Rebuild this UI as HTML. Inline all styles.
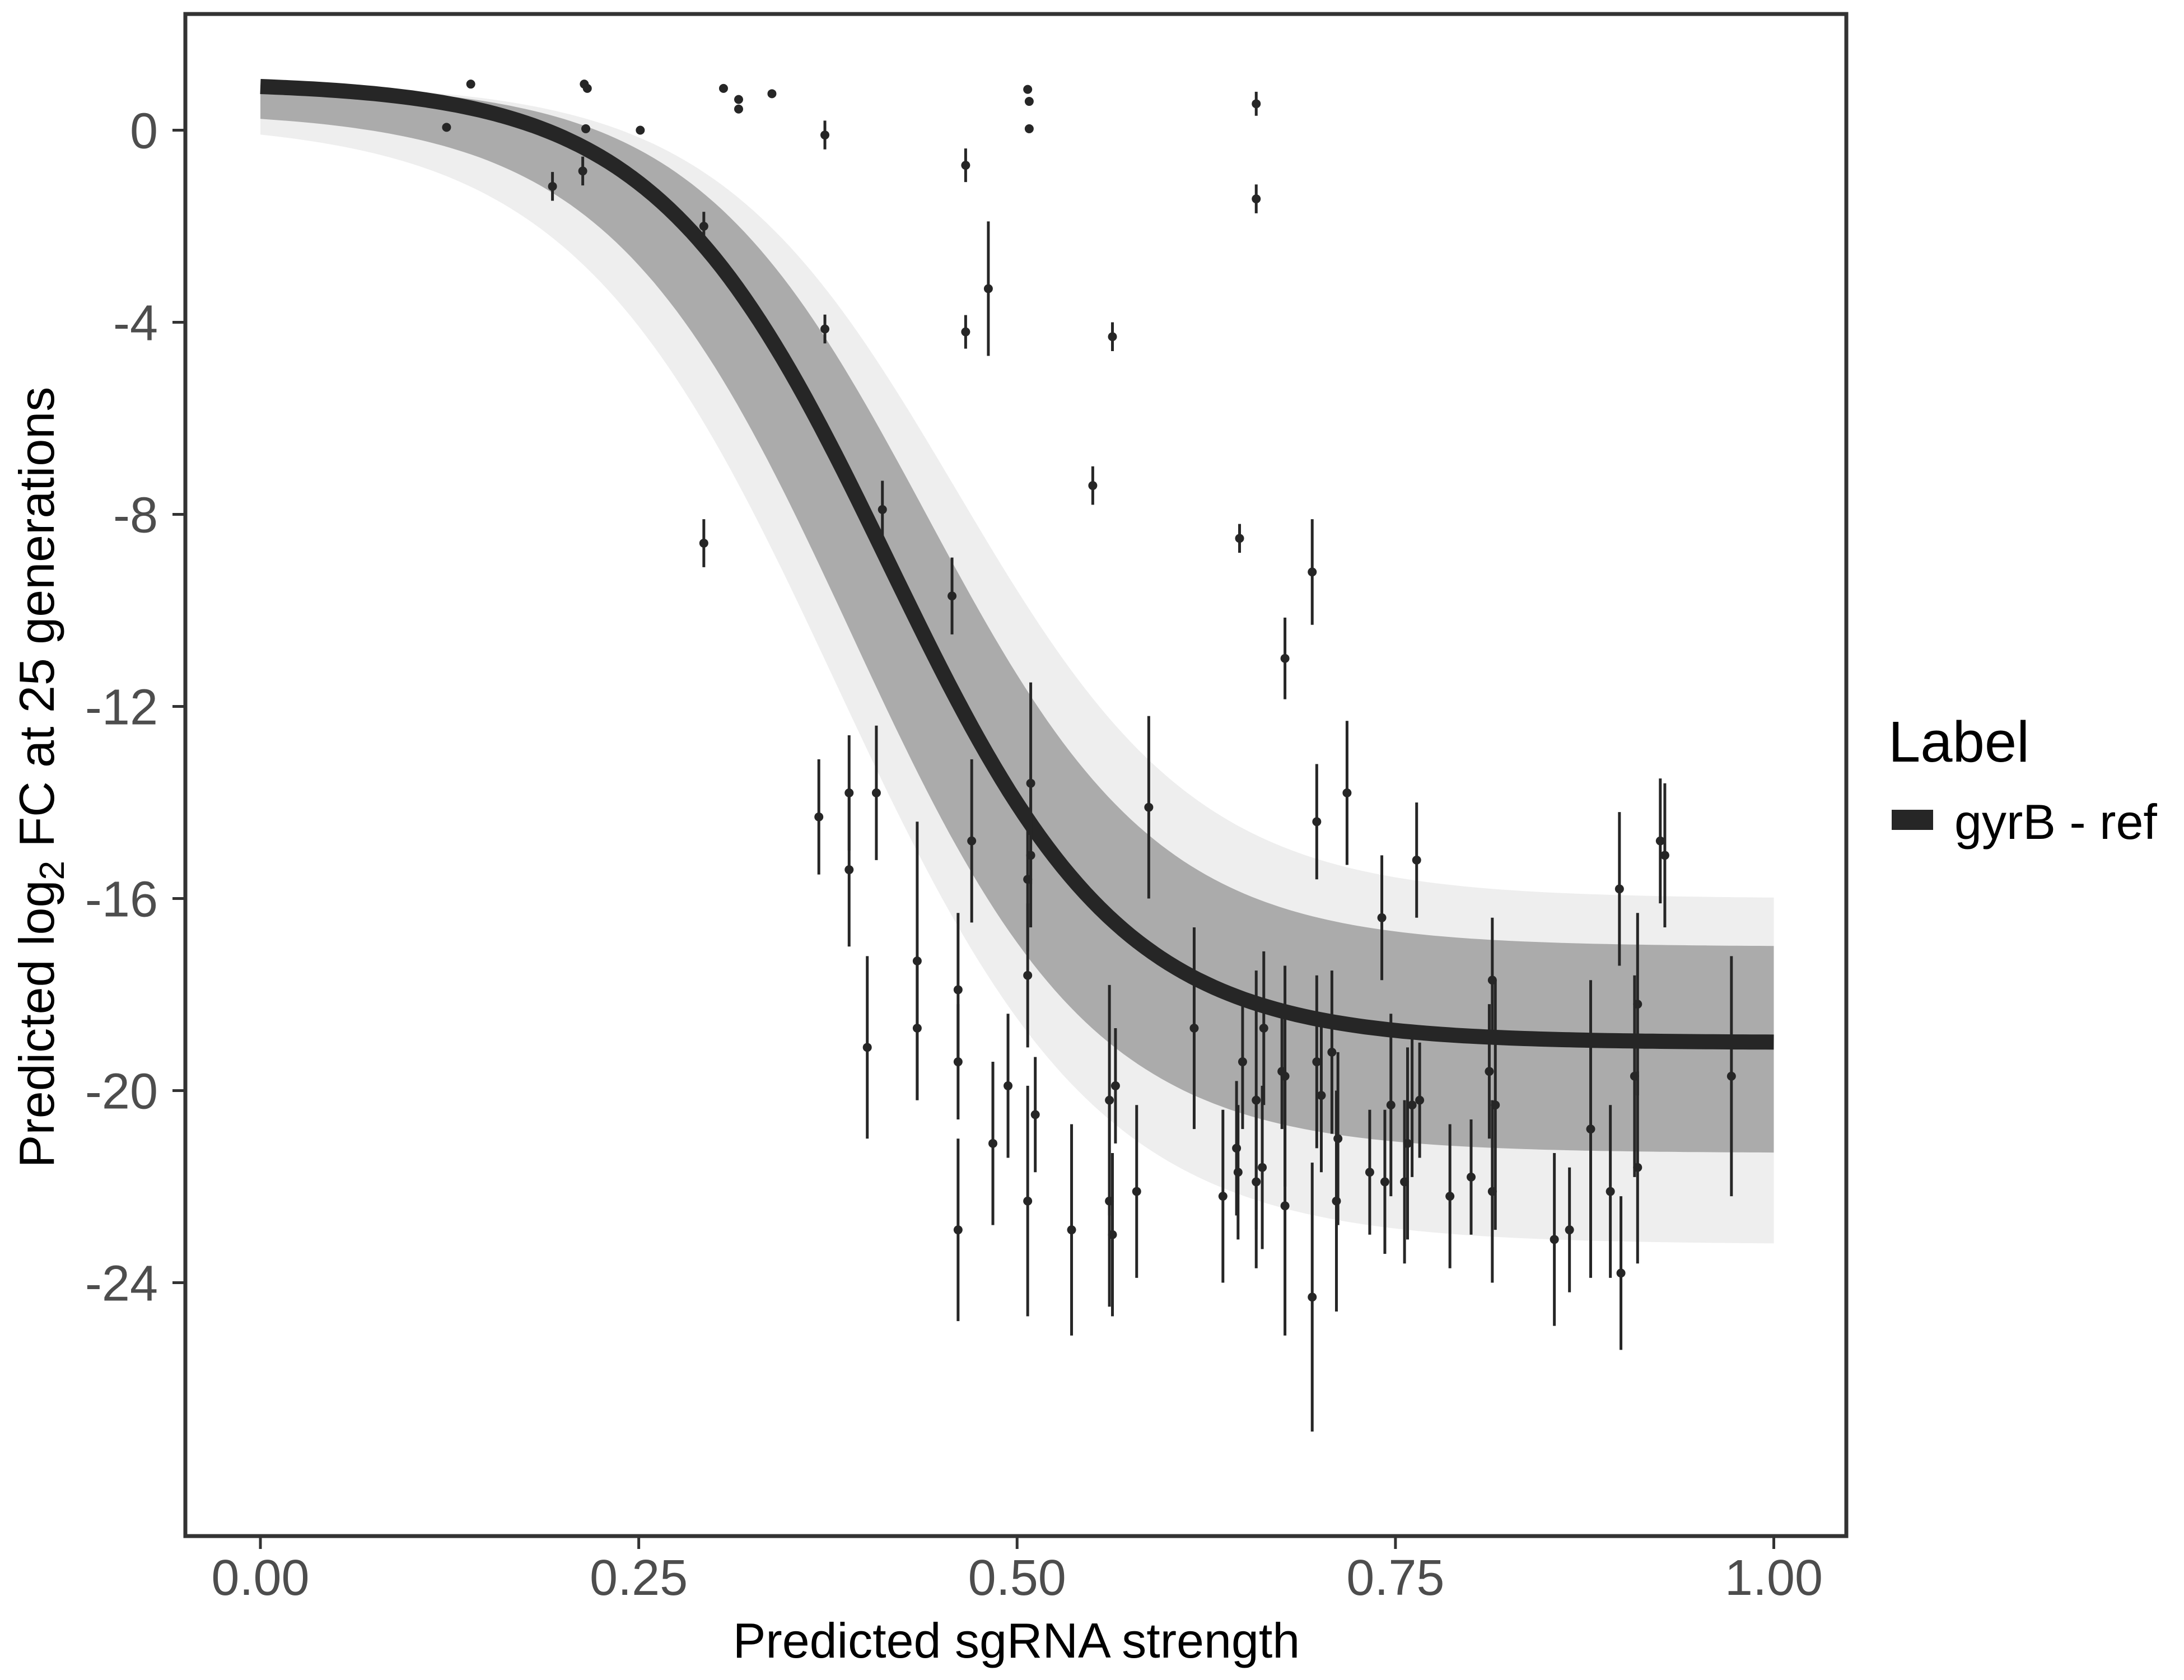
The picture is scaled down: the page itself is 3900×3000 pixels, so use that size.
<!DOCTYPE html>
<html><head><meta charset="utf-8"><style>
html,body{margin:0;padding:0;background:#fff;}
svg{display:block;font-family:"Liberation Sans",sans-serif;}
</style></head><body>
<svg id="chart" width="3900" height="3000" viewBox="0 0 3900 3000">
<g id="ribbon"></g>
<g id="fit"></g>
<g id="pts"></g>
<rect x="331" y="25" width="2966" height="2718" fill="none" stroke="#333" stroke-width="7"/>
<g id="axes"></g>
<text x="1815" y="2960" font-size="88" text-anchor="middle" fill="#000">Predicted sgRNA strength</text>
<text transform="translate(96,1388) rotate(-90)" font-size="88" text-anchor="middle" fill="#000">Predicted  log<tspan font-size="62" dy="18">2</tspan><tspan dy="-18"> FC at 25 generations</tspan></text>
<g>
<text x="3372" y="1360" font-size="103" fill="#000">Label</text>
<rect x="3378" y="1446" width="74" height="36" fill="#262626"/>
<text x="3490" y="1498" font-size="88" fill="#000">gyrB - ref</text>
</g>
</svg>
<script>
const xTicks = [0, 0.25, 0.5, 0.75, 1];
const xTickLabels = ["0.00","0.25","0.50","0.75","1.00"];
const yTicks = [0, -4, -8, -12, -16, -20, -24];
const yTickLabels = ["0","-4","-8","-12","-16","-20","-24"];
// fit logistic: top, bottom, midpoint, slope
const fitParams = [1.0, -19.0, 0.415, 13];
// ribbon envelopes [top, bottom, mid, slope]
const coreUpper = [1.0, -17.0, 0.44, 13];
const coreLower = [0.4, -21.3, 0.39, 12.5];
const outerUpper = [1.0, -16.0, 0.46, 12.5];
const outerLower = [0.2, -23.2, 0.38, 11.5];
const ptX = [0.123,0.139,0.193,0.213,0.214,0.216,0.215,0.251,0.293,0.293,0.306,0.316,0.316,0.338,0.373,0.373,0.369,0.389,0.389,0.401,0.407,0.411,0.434,0.434,0.457,0.461,0.461,0.461,0.466,0.466,0.47,0.481,0.484,0.494,0.508,0.507,0.508,0.507,0.507,0.507,0.509,0.509,0.512,0.536,0.55,0.561,0.561,0.563,0.565,0.563,0.579,0.587,0.617,0.636,0.645,0.646,0.647,0.649,0.658,0.658,0.658,0.658,0.662,0.663,0.675,0.677,0.677,0.677,0.695,0.695,0.698,0.698,0.701,0.708,0.711,0.712,0.718,0.733,0.741,0.743,0.747,0.756,0.758,0.761,0.764,0.766,0.786,0.8,0.812,0.814,0.814,0.816,0.855,0.865,0.879,0.892,0.898,0.899,0.908,0.91,0.91,0.925,0.928,0.972];
const ptY = [0.06,0.96,-1.17,-0.85,0.96,0.87,0.03,0,-2.0,-8.6,0.87,0.64,0.44,0.76,-0.1,-4.14,-14.3,-13.8,-15.4,-19.1,-13.8,-7.9,-17.3,-18.7,-9.7,-17.9,-19.4,-22.9,-0.73,-4.2,-14.8,-3.3,-21.1,-19.9,0.6,0.85,0.03,-15.6,-17.6,-22.3,-13.6,-15.1,-20.5,-22.9,-7.4,-20.2,-22.3,-23.0,-19.9,-4.3,-22.1,-14.1,-18.7,-22.2,-21.2,-21.7,-8.5,-19.4,-20.2,-21.9,0.55,-1.43,-21.6,-18.7,-19.6,-11.0,-19.7,-22.4,-9.2,-24.3,-14.4,-19.4,-20.1,-19.2,-22.3,-21.0,-13.8,-21.7,-16.4,-21.9,-20.3,-21.9,-21.1,-20.3,-15.2,-20.2,-22.2,-21.8,-19.6,-17.7,-22.1,-20.3,-23.1,-22.9,-20.8,-22.1,-15.8,-23.8,-19.7,-18.2,-21.6,-14.8,-15.1,-19.7];
const ptErr = [0,0,0.3,0.3,0,0,0,0,0.3,0.5,0,0,0,0,0.3,0.3,1.2,1.2,1.6,1.9,1.4,0.6,2.9,1.5,0.8,1.6,1.2,1.9,0.35,0.35,1.7,1.4,1.7,1.5,0,0,0,1.5,1.5,2.4,2.1,1.5,1.2,2.2,0.4,2.4,2.2,1.7,1.2,0.3,1.8,1.9,2.1,1.8,1.4,1.4,0.3,1.4,2.7,1.8,0.25,0.3,1.7,1.6,1.2,0.85,2.3,2.7,1.1,2.8,1.2,1.8,1.6,1.7,2.3,1.8,1.5,1.3,1.3,1.5,1.9,1.7,2.0,1.5,1.2,1.2,1.5,1.2,1.4,1.3,1.9,2.6,1.8,1.3,3.1,1.8,1.6,1.6,2.1,1.9,2.0,1.3,1.5,2.5];

const NS='http://www.w3.org/2000/svg';
const X0=465, XS=2702.5, Y0=232.5, YS=85.75;
const sx = v => X0 + v*XS;
const sy = v => Y0 - v*YS;
const logi = (p,x) => p[0] + (p[1]-p[0])/(1+Math.exp(-p[3]*(x-p[2])));
function mk(tag, attrs, parent){const e=document.createElementNS(NS,tag);for(const k in attrs)e.setAttribute(k,attrs[k]);parent.appendChild(e);return e;}
const xs=[];for(let i=0;i<=200;i++)xs.push(i/200);
function curvePts(p){return xs.map(x=>sx(x).toFixed(1)+','+sy(logi(p,x)).toFixed(1));}
function band(pu,pl,fill,name){
  const d='M'+curvePts(pu).join(' L')+' L'+curvePts(pl).reverse().join(' L')+'Z';
  const e=mk('path',{d:d,fill:fill},document.getElementById('ribbon'));
  
  
}
band(outerUpper,outerLower,'#eeeeee','ribbon-outer');
band(coreUpper,coreLower,'#ababab','ribbon-core');
const fl=mk('path',{d:'M'+curvePts(fitParams).join(' L'),fill:'none',stroke:'#262626','stroke-width':27,'stroke-linejoin':'round'},document.getElementById('fit'));


const pg=document.getElementById('pts');
for(let i=0;i<ptX.length;i++){
  if(ptErr[i]>0){
    const l=mk('line',{x1:sx(ptX[i]),x2:sx(ptX[i]),y1:sy(ptY[i]+ptErr[i]),y2:sy(ptY[i]-ptErr[i]),stroke:'#262626','stroke-width':5},pg);
    
    
  }
  const c=mk('circle',{cx:sx(ptX[i]),cy:sy(ptY[i]),r:8,fill:'#262626'},pg);
  
  
}
const ax=document.getElementById('axes');
xTicks.forEach((v,i)=>{
  const t=mk('line',{x1:sx(v),x2:sx(v),y1:2746,y2:2766,stroke:'#333','stroke-width':5},ax);
  
  
  const tx=mk('text',{x:sx(v),y:2848,'font-size':90,'text-anchor':'middle',fill:'#4d4d4d'},ax);
  tx.textContent=xTickLabels[i];
  
  
});
yTicks.forEach((v,i)=>{
  const t=mk('line',{x1:308,x2:328,y1:sy(v),y2:sy(v),stroke:'#333','stroke-width':5},ax);
  
  
  const tx=mk('text',{x:282,y:sy(v)+32,'font-size':90,'text-anchor':'end',fill:'#4d4d4d'},ax);
  tx.textContent=yTickLabels[i];
  
  
});
</script>
</body></html>
